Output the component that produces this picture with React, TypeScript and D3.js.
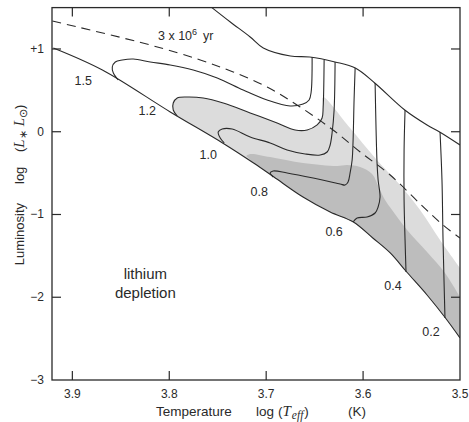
import * as d3 from "d3";

type Pt = [number, number];

// all points are [log Teff, log L/Lsun]
const zams: Pt[] = [
  [3.9196, 1.012], [3.869, 0.746], [3.799, 0.239], [3.745, -0.136], [3.713, -0.378],
  [3.692, -0.547], [3.662, -0.789], [3.634, -0.97], [3.61, -1.091], [3.59, -1.284],
  [3.572, -1.465], [3.555, -1.695], [3.534, -1.973], [3.515, -2.251], [3.5, -2.492],
];

const birthline: Pt[] = [
  [3.756, 1.5], [3.737, 1.326], [3.7165, 1.145], [3.703, 1.012], [3.675, 0.915],
  [3.655, 0.903], [3.629, 0.843], [3.608, 0.77], [3.588, 0.589], [3.557, 0.263],
  [3.534, 0.082], [3.521, -0.003], [3.5, -0.16],
];

const isochrone3Myr: Pt[] = [
  [3.9206, 1.338], [3.8196, 1.048], [3.768, 0.867], [3.734, 0.722], [3.699, 0.541],
  [3.665, 0.299], [3.631, 0.021], [3.603, -0.245], [3.572, -0.523], [3.541, -0.873],
  [3.5175, -1.127], [3.5, -1.284],
];

const masses = ["1.5", "1.2", "1.0", "0.8", "0.6", "0.4", "0.2"];

// each track starts at its ZAMS end
const track15: Pt[] = [
  [3.8526, 0.625], [3.8577, 0.71], [3.8588, 0.782], [3.8557, 0.843], [3.8485, 0.867],
  [3.8371, 0.879], [3.8196, 0.843], [3.799, 0.807], [3.7753, 0.746], [3.7505, 0.65],
  [3.7237, 0.505], [3.699, 0.384], [3.6753, 0.311], [3.6619, 0.335], [3.6557, 0.384],
  [3.6536, 0.48], [3.6526, 0.903],
];
const track12: Pt[] = [
  [3.7918, 0.19], [3.7959, 0.263], [3.7959, 0.347], [3.7918, 0.408], [3.7814, 0.42],
  [3.7649, 0.408], [3.7443, 0.347], [3.7165, 0.227], [3.6887, 0.106], [3.6701, 0.021],
  [3.6577, 0.021], [3.6474, 0.082], [3.6423, 0.166], [3.6412, 0.299], [3.6402, 0.867],
];
const track10: Pt[] = [
  [3.7433, -0.136], [3.7474, -0.076], [3.7495, -0.003], [3.7454, 0.033], [3.7351, 0.033],
  [3.7165, -0.063], [3.6959, -0.136], [3.6784, -0.221], [3.6598, -0.269], [3.6443, -0.281],
  [3.6371, -0.245], [3.634, -0.16], [3.632, -0.015], [3.6299, 0.263], [3.6289, 0.843],
];
const track08: Pt[] = [
  [3.6928, -0.547], [3.6959, -0.498], [3.6928, -0.474], [3.6784, -0.498], [3.6515, -0.559],
  [3.6237, -0.631], [3.6186, -0.644], [3.6155, -0.607], [3.6134, -0.498], [3.6113, -0.341],
  [3.6103, -0.1], [3.6093, 0.384], [3.6082, 0.77],
];
const track06: Pt[] = [
  [3.6103, -1.091], [3.6062, -1.042], [3.5959, -1.03], [3.5876, -0.982], [3.5845, -0.909],
  [3.5825, -0.789], [3.5845, -0.583], [3.5856, -0.378], [3.5866, 0.021], [3.5876, 0.589],
];
const track04: Pt[] = [
  [3.5557, -1.695], [3.5567, -1.308], [3.5577, -0.825], [3.5577, -0.221], [3.5567, 0.263],
];
const track02: Pt[] = [
  [3.5155, -2.251], [3.5175, -1.308], [3.5186, -0.583], [3.5206, -0.003],
];
const tracks = [track15, track12, track10, track08, track06, track04, track02];

// upper edges of the shaded lithium-depletion zones
const lightEdge: Pt[] = [
  [3.6412, 0.42], [3.6134, 0.045], [3.5876, -0.317], [3.5619, -0.644], [3.5412, -0.946],
  [3.5206, -1.308], [3.5, -1.647],
];
const darkEdge: Pt[] = [
  [3.7206, -0.293], [3.7165, -0.269], [3.6959, -0.305], [3.6619, -0.378], [3.6268, -0.414],
  [3.6165, -0.402], [3.6031, -0.426], [3.5907, -0.511], [3.5835, -0.68], [3.5773, -0.825],
  [3.5701, -0.946], [3.5546, -1.187], [3.534, -1.453], [3.5155, -1.707], [3.5, -1.997],
];

const xTicks = [3.9, 3.8, 3.7, 3.6, 3.5];
const xTickLabels = ["3.9", "3.8", "3.7", "3.6", "3.5"];
const yTicks = [1, 0, -1, -2, -3];
const yTickLabels = ["+1", "0", "\u22121", "\u22122", "\u22123"];

const W = 469;
const H = 422;
const font = "'Liberation Sans', Arial, Helvetica, sans-serif";
const serif = "'Liberation Serif', 'DejaVu Serif', serif";
const ink = "#2a2a2a";

// label offsets (px) from the ZAMS end of each track
const labelOffsets: Pt[] = [[-35, 1], [-30, -5], [-16, 12], [-14, 15], [-19, 10], [-13, 14], [-14, 14]];

export default function App() {
  const x = d3.scaleLinear().domain([3.921, 3.5]).range([52, 460]);
  const y = d3.scaleLinear().domain([-3, 1.5]).range([380, 7.6]);
  const [x0, x1] = x.range();
  const [y0, y1] = y.range();

  const smooth = d3.line<Pt>().x(d => x(d[0])).y(d => y(d[1])).curve(d3.curveCatmullRom.alpha(0.5));
  const straight = d3.line<Pt>().x(d => x(d[0])).y(d => y(d[1]));

  // light zone: track 1.2 from the hook, then the diagonal edge, down the frame, back along the ZAMS
  const lightTop = [...track12.slice(0, -1), ...lightEdge];
  const lightBack: Pt[] = [[3.5, -2.492], ...zams.filter(d => d[0] < track12[0][0]).reverse()];
  const lightPath = smooth(lightTop) + straight(lightBack)!.replace("M", "L") + "Z";

  const darkBack: Pt[] = [...zams.filter(d => d[0] < darkEdge[0][0]).reverse()];
  const darkPath = smooth(darkEdge) + straight(darkBack)!.replace("M", "L") + "Z";

  const tickLen = 9;

  return (
    <svg width={W} height={H} style={{ position: "absolute", left: 0, top: 0, background: "#fff" }}
      fontFamily={font}>
      <defs>
        <clipPath id="plot">
          <rect x={x0} y={y1} width={x1 - x0} height={y0 - y1} />
        </clipPath>
      </defs>

      <g clipPath="url(#plot)">
        <path d={lightPath} fill="#dcdcdc" />
        <path d={darkPath} fill="#bdbdbd" />
        <path d={smooth(zams)!} fill="none" stroke={ink} strokeWidth={1.1} />
        <path d={smooth(birthline)!} fill="none" stroke={ink} strokeWidth={1.1} />
        <path d={smooth(isochrone3Myr)!} fill="none" stroke={ink} strokeWidth={1.1} strokeDasharray="9,6" />
        {tracks.map((t, i) => (
          <path key={i} d={smooth(t)!} fill="none" stroke={ink} strokeWidth={1.1} />
        ))}
      </g>

      {/* frame */}
      <rect x={x0} y={y1} width={x1 - x0} height={y0 - y1} fill="none" stroke={ink} strokeWidth={1.3} />

      {/* inward ticks */}
      {xTicks.filter(v => v > 3.5).map(v => (
        <g key={"xt" + v} stroke={ink} strokeWidth={1.2}>
          <line x1={x(v)} x2={x(v)} y1={y0} y2={y0 - tickLen} />
          <line x1={x(v)} x2={x(v)} y1={y1} y2={y1 + tickLen} />
        </g>
      ))}
      {yTicks.filter(v => v > -3).map(v => (
        <g key={"yt" + v} stroke={ink} strokeWidth={1.2}>
          <line x1={x0} x2={x0 + tickLen} y1={y(v)} y2={y(v)} />
          <line x1={x1} x2={x1 - tickLen} y1={y(v)} y2={y(v)} />
        </g>
      ))}

      {xTicks.map((v, i) => (
        <text key={"xl" + v} x={x(v)} y={y0 + 18} textAnchor="middle" fontSize={12} fill={ink}>
          {xTickLabels[i]}
        </text>
      ))}
      {yTicks.map((v, i) => (
        <text key={"yl" + v} x={x0 - 8} y={y(v)} textAnchor="end" dominantBaseline="central"
          fontSize={12} fill={ink}>
          {yTickLabels[i]}
        </text>
      ))}

      {/* mass labels */}
      {masses.map((m, i) => (
        <text key={m} x={x(tracks[i][0][0]) + labelOffsets[i][0]} y={y(tracks[i][0][1]) + labelOffsets[i][1]}
          textAnchor="middle" dominantBaseline="central" fontSize={12.5} fill={ink}>
          {m}
        </text>
      ))}

      {/* isochrone label */}
      <text x={x(3.8116)} y={y(1.109)} fontSize={12.5} fill={ink}>
        3 x 10<tspan dy={-5} fontSize={9}>6</tspan>
        <tspan dy={5} dx={6}>yr</tspan>
      </text>

      <text x={x(3.8247)} y={y(-1.78)} textAnchor="middle" fontSize={15} fill={ink}>lithium</text>
      <text x={x(3.8247)} y={y(-2.01)} textAnchor="middle" fontSize={15} fill={ink}>depletion</text>

      {/* x axis title */}
      <g fontSize={13.5} fill={ink}>
        <text x={156} y={416}>Temperature</text>
        <text x={256} y={416}>log</text>
        <text x={278} y={416}>
          (<tspan fontFamily={serif} fontStyle="italic" fontSize={15}>T</tspan>
          <tspan fontFamily={serif} fontStyle="italic" fontSize={11.5} dy={3} dx={1}>eff</tspan>
          <tspan dy={-3} dx={1}>)</tspan>
        </text>
        <text x={348} y={416}>(K)</text>
      </g>

      {/* y axis title */}
      <g fontSize={13} fill={ink}>
        <text transform="translate(24,203) rotate(-90)" textAnchor="end">Luminosity</text>
        <text transform="translate(24,184) rotate(-90)">log</text>
        <text transform="translate(24,152) rotate(-90)">
          (<tspan fontFamily={serif} fontStyle="italic" fontSize={15}>L</tspan>
          <tspan fontSize={11} dy={3}>{"\u2217"}</tspan>
          <tspan dy={-3} dx={4} fontFamily={serif} fontStyle="italic" fontSize={15}>L</tspan>
          <tspan fontSize={11} dy={3}>{"\u2299"}</tspan>
          <tspan dy={-3}>)</tspan>
        </text>
      </g>
    </svg>
  );
}
